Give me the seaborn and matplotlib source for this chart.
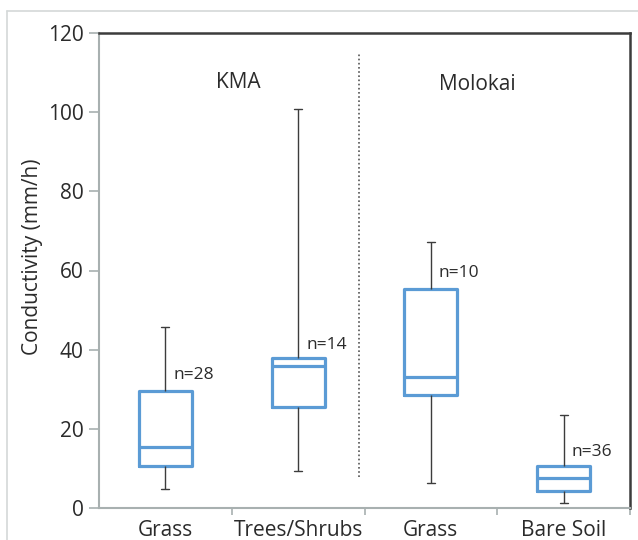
import numpy as np
import pandas as pd
import matplotlib
matplotlib.use("Agg")
import matplotlib.pyplot as plt
import seaborn as sns
from matplotlib.lines import Line2D

# ---- data (five-number summaries) ----
groups = ["KMA Grass", "KMA Trees/Shrubs", "Molokai Grass", "Molokai Bare Soil"]
tick_labels = ["Grass", "Trees/Shrubs", "Grass", "Bare Soil"]
mins = [4.8, 9.4, 6.2, 1.2]
q1s = [10.6, 25.4, 28.5, 4.4]
medians = [15.5, 35.9, 33.0, 7.7]
q3s = [29.6, 37.8, 55.3, 10.6]
maxs = [45.7, 100.7, 67.1, 23.5]
n_labels = ["n=28", "n=14", "n=10", "n=36"]
n_label_y = [33.6, 41.2, 59.4, 14.1]
region_labels = ["KMA", "Molokai"]

rows = []
for g, a, b, c, d, e in zip(groups, mins, q1s, medians, q3s, maxs):
    for v in (a, b, c, d, e):
        rows.append({"group": g, "value": v})
df = pd.DataFrame(rows)

sns.set_theme(style="white")
plt.rcParams["font.family"] = ["Open Sans", "DejaVu Sans"]

blue = "#5b9bd5"
dark = "#3c3c3c"
grey = "#a8b0b0"
txt = "#2b2b2b"

fig = plt.figure(figsize=(6.38, 5.4), dpi=100)
ax = fig.add_axes([99 / 638, 1 - 508 / 540, (630 - 99) / 638, (508 - 33) / 540])

sns.boxplot(data=df, x="group", y="value", order=groups, ax=ax,
            whis=(0, 100), width=0.4, fill=False, color=blue, linewidth=2.3,
            boxprops={"color": blue, "linewidth": 2.3},
            medianprops={"color": blue, "linewidth": 2.3},
            whiskerprops={"color": dark, "linewidth": 1.0},
            capprops={"color": dark, "linewidth": 1.0},
            capwidths=0.06, showfliers=False)

ax.set_xlim(-0.5, 3.5)
ax.set_ylim(0, 120)
ax.set_yticks([0, 20, 40, 60, 80, 100, 120])
ax.set_yticklabels(["0", "20", "40", "60", "80", "100", "120"])
ax.set_xticks(range(4))
ax.set_xticklabels(tick_labels)
ax.set_xticks([0.5, 1.5, 2.5, 3.5], minor=True)
ax.tick_params(axis="x", which="major", length=0, pad=9, labelsize=15, labelcolor=txt)
ax.tick_params(axis="x", which="minor", length=5, width=1.2, color=grey, direction="out", bottom=True)
ax.tick_params(axis="y", length=7, width=1.2, color=grey, direction="out", left=True,
               labelsize=15, labelcolor=txt, pad=4)
ax.set_xlabel("")
ax.set_ylabel("Conductivity (mm/h)", fontsize=15, color=txt)
ax.yaxis.set_label_coords(-0.105, 0.528)

for s in ["left", "bottom"]:
    ax.spines[s].set_color(grey)
    ax.spines[s].set_linewidth(1.5)
for s in ["top", "right"]:
    ax.spines[s].set_color(dark)
    ax.spines[s].set_linewidth(1.8)

# divider between regions
ax.plot([1.46, 1.46], [7.8, 115], linestyle=(0, (1, 1.5)), color="#555555", linewidth=1.2)

ax.text(0.55, 107.5, region_labels[0], ha="center", va="center", fontsize=15, color=txt)
ax.text(2.35, 107, region_labels[1], ha="center", va="center", fontsize=15, color=txt)

for i, (lab, yv) in enumerate(zip(n_labels, n_label_y)):
    ax.text(i + 0.06, yv, lab, ha="left", va="center", fontsize=12.5, color=txt)

# light outer frame
fig.add_artist(Line2D([7 / 638, 7 / 638], [0, 1 - 11 / 540], transform=fig.transFigure,
                      color="#d4d8d8", linewidth=1.2))
fig.add_artist(Line2D([7 / 638, 1], [1 - 11 / 540, 1 - 11 / 540], transform=fig.transFigure,
                      color="#d4d8d8", linewidth=1.2))

fig.savefig("out.png", dpi=100)
